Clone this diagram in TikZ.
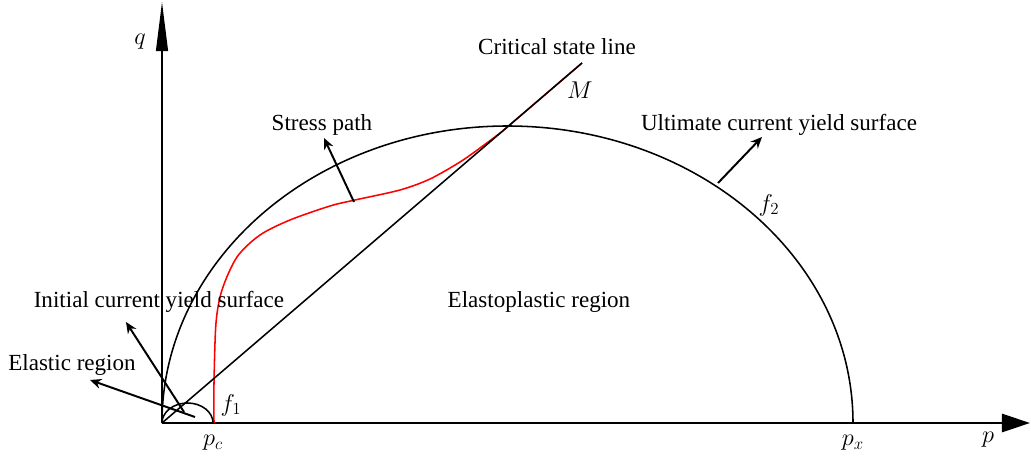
\documentclass[tikz,border=0pt]{standalone}
\usepackage{fontspec}
\setmainfont{Liberation Serif}
\usetikzlibrary{arrows.meta}
\begin{document}
\begin{tikzpicture}[x=0.025cm,y=0.025cm, lbl/.style = {font=\fontsize{16.4}{19}\selectfont, inner sep=0pt}, sym/.style = {font=\fontsize{18.5}{22}\selectfont, inner sep=0pt}, ptr/.style = {line width=1.4pt, -{Stealth[length=8pt,width=7pt]}}, curve/.style = {line width=1.1pt}]
\useasboundingbox (-162,-38) rectangle (869,423);
\coordinate (O) at (0,0); \coordinate (qtip) at (0,421); \coordinate (ptip) at (868,0); \coordinate (M) at (420,360);
\draw [line width=1pt, -{Triangle[length=35pt,width=8.5pt]}] (O) -- (qtip);
\draw [line width=1.4pt, -{Triangle[length=20pt,width=13pt]}] (O) -- (ptip);
\draw [red, curve] plot[smooth] coordinates {(52,0) (52,40) (54,100) (60,133) (75,166) (98,188) (128,203) (168,217) (193,223) (238,233) (268,244) (298,261) (318,275) (340,291.4)} -- (M);
\draw [curve] (O) arc[start angle=180, end angle=0, x radius=345.5, y radius=297] coordinate (px);
\draw [curve] (O) arc[start angle=180, end angle=0, x radius=25.5, y radius=20] coordinate (pc);
\draw [curve] (O) -- (M);
\node[sym] (q) at (-22,381) {$q$}; \node[sym] (p) at (826,-17) {$p$};
\node[sym] (pclbl) at (51,-20) {$p_c$}; \node[sym] (pxlbl) at (691,-20) {$p_x$};
\node[sym] (f1) at (69,18) {$f_1$}; \node[sym] (f2) at (607,218) {$f_2$}; \node[sym] (Mlbl) at (418,333) {$M$};
\node[lbl] (csl) at (395,376) {Critical state line};
\node[lbl] (spath) at (160,298) {Stress path};
\node[lbl] (ult) at (617,298) {Ultimate current yield surface};
\node[lbl] (eplas) at (377,121) {Elastoplastic region};
\node[lbl] (init) at (-3,121) {Initial current yield surface};
\node[lbl] (elas) at (-90,58) {Elastic region};
\coordinate (sp1) at (192,221); \coordinate (sp2) at (162,285);
\coordinate (ul1) at (556,240); \coordinate (ul2) at (600,286);
\coordinate (in1) at (22,11); \coordinate (in2) at (-36,101);
\coordinate (el1) at (33,6); \coordinate (el2) at (-72,43);
\draw [ptr] (sp1) -- (sp2); \draw [ptr] (ul1) -- (ul2);
\draw [ptr] (in1) -- (in2); \draw [ptr] (el1) -- (el2);
\end{tikzpicture}
\end{document}
